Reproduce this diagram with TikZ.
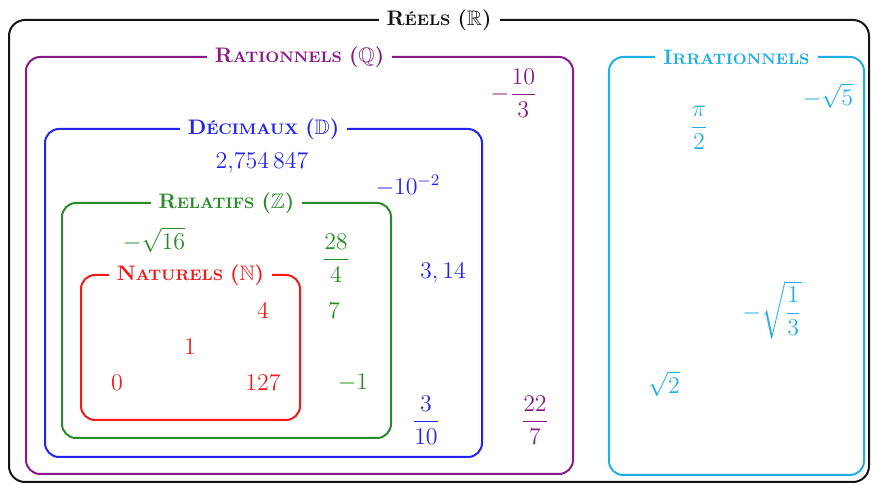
\documentclass[tikz,border=0pt]{standalone}
\usepackage{amsmath,amssymb}
\usepackage{fontspec}
\definecolor{cR}{RGB}{20,20,20}
\definecolor{cQ}{RGB}{140,25,140}
\definecolor{cD}{RGB}{35,35,245}
\definecolor{cZ}{RGB}{40,140,40}
\definecolor{cN}{RGB}{245,25,25}
\definecolor{cI}{RGB}{30,175,235}
\newcommand{\tsc}[2]{\textbf{#1{\fontsize{7.6}{9}\selectfont #2}}}
\tikzset{
  setbox/.style={line width=1pt, rounded corners=7pt},
  settitle/.style={fill=white, inner xsep=4pt, inner ysep=1pt, font=\fontsize{10.5}{12}\selectfont},
  num/.style={inner sep=0pt, font=\fontsize{12}{14}\selectfont},
}
\begin{document}
\begin{tikzpicture}[x=0.5pt,y=-0.5pt]
\useasboundingbox (0,0) rectangle (872,485);
% boxes
\draw[setbox, cR, rounded corners=8pt] (9,20) rectangle (869,482);
\draw[setbox, cQ] (26,57) rectangle (573,474);
\draw[setbox, cD] (45,129) rectangle (482,457);
\draw[setbox, cZ] (62,203) rectangle (391,438);
\draw[setbox, cN] (81,275) rectangle (300,420);
\draw[setbox, cI] (609,57) rectangle (864,475);
% titles
\node[settitle, text=cR] (tR) at (439,20) {\tsc{R}{ÉELS} \textbf{(}$\mathbb{R}$\textbf{)}};
\node[settitle, text=cQ] (tQ) at (299.5,57) {\tsc{R}{ATIONNELS} \textbf{(}$\mathbb{Q}$\textbf{)}};
\node[settitle, text=cD] (tD) at (263.5,129) {\tsc{D}{ÉCIMAUX} \textbf{(}$\mathbb{D}$\textbf{)}};
\node[settitle, text=cZ] (tZ) at (226.5,203) {\tsc{R}{ELATIFS} \textbf{(}$\mathbb{Z}$\textbf{)}};
\node[settitle, text=cN] (tN) at (190.5,275) {\tsc{N}{ATURELS} \textbf{(}$\mathbb{N}$\textbf{)}};
\node[settitle, text=cI] (tI) at (736.5,57) {\tsc{I}{RRATIONNELS}};
% rationals
\node[num, text=cQ] (q1) at (514,93) {$-\dfrac{10}{3}$};
\node[num, text=cQ] (q2) at (535,420) {$\dfrac{22}{7}$};
% decimals
\node[num, text=cD] (d1) at (262,163) {$2{,}754\,847$};
\node[num, text=cD] (d2) at (408,186) {$-10^{-2}$};
\node[num, text=cD] (d3) at (443,273) {$3,14$};
\node[num, text=cD] (d4) at (426,420) {$\dfrac{3}{10}$};
% integers
\node[num, text=cZ] (z1) at (154,240) {$-\sqrt{16}$};
\node[num, text=cZ] (z2) at (336,258) {$\dfrac{28}{4}$};
\node[num, text=cZ] (z3) at (334,311) {$7$};
\node[num, text=cZ] (z4) at (353,383) {$-1$};
% naturals
\node[num, text=cN] (n1) at (263,311) {$4$};
\node[num, text=cN] (n2) at (190,347) {$1$};
\node[num, text=cN] (n3) at (117,383) {$0$};
\node[num, text=cN] (n4) at (263,383) {$127$};
% irrationals
\node[num, text=cI] (i1) at (699,128) {$\dfrac{\pi}{2}$};
\node[num, text=cI] (i2) at (828,96) {$-\sqrt{5}$};
\node[num, text=cI] (i3) at (772,310) {$-\sqrt{\dfrac{1}{3}}$};
\node[num, text=cI] (i4) at (664,384) {$\sqrt{2}$};
\end{tikzpicture}
\end{document}
